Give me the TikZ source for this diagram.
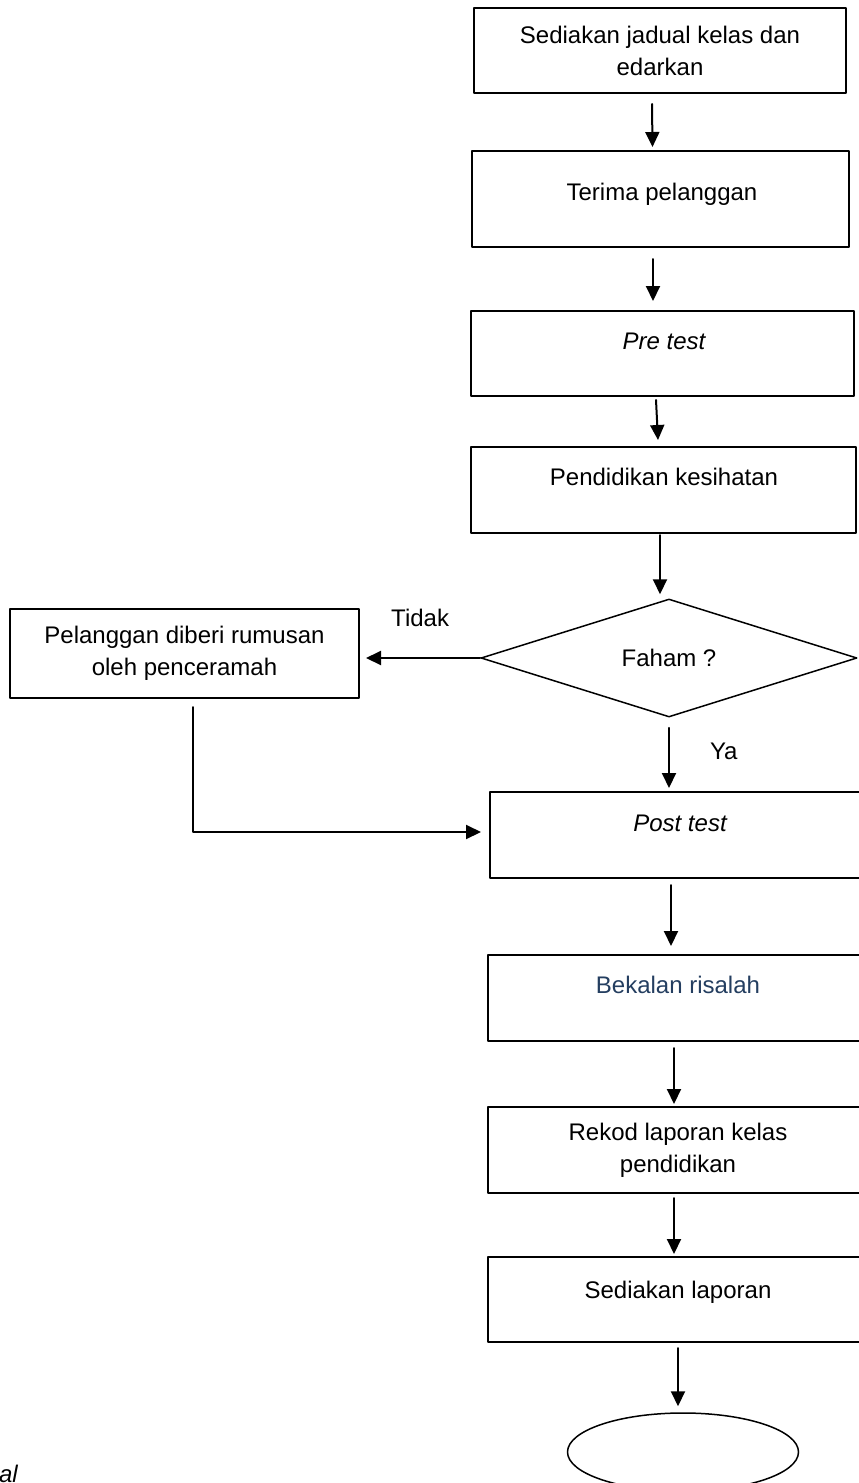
\documentclass[tikz,border=0pt]{standalone}
\usepackage{fontspec}
\setmainfont{Liberation Sans}
\usetikzlibrary{arrows.meta,shapes.geometric}
\definecolor{risalahblue}{RGB}{36,62,96}

\begin{document}
\begin{tikzpicture}[line cap=round,line join=round,>={Triangle[length=15pt,width=14pt]},x=1pt,y=-1pt,line width=2pt,
    every node/.style={font=\fontsize{24}{32}\selectfont},
    box/.style={draw,inner sep=0pt,align=center},
    lbl/.style={inner sep=0pt,align=center}]
    \useasboundingbox (0,0) rectangle (859,1483);
    \clip (0,0) rectangle (859,1483);
    % main column
    \node[box,minimum width=372pt,minimum height=85pt] (sediakan) at (660,50.5) {Sediakan jadual kelas dan\\edarkan};
    \node[box,minimum width=377pt,minimum height=96pt] (terima) at (660.5,199) {};
    \node[lbl,anchor=base] (terimatxt) at (662,200) {Terima pelanggan};
    \node[box,minimum width=383pt,minimum height=85pt] (pre) at (662.5,353.5) {};
    \node[lbl,anchor=base] (pretxt) at (664,349) {\itshape Pre test};
    \node[box,minimum width=385pt,minimum height=86pt] (pend) at (663.5,490) {};
    \node[lbl,anchor=base] (pendtxt) at (664,485) {Pendidikan kesihatan};
    \node[draw,diamond,line width=1.5pt,inner sep=0pt,minimum width=376pt,minimum height=118pt] (faham) at (669,658) {Faham ?};
    \node[box,minimum width=349pt,minimum height=89pt] (pel) at (184.5,653.5) {Pelanggan diberi rumusan\\oleh penceramah};
    \node[box,minimum width=380pt,minimum height=86pt] (post) at (680,835) {};
    \node[lbl,anchor=base] (posttxt) at (680,831) {\itshape Post test};
    \node[box,minimum width=380pt,minimum height=86pt] (bekalan) at (678,998) {};
    \node[lbl,anchor=base,text=risalahblue] (bekalantxt) at (678,993) {Bekalan risalah};
    \node[box,minimum width=380pt,minimum height=86pt] (rekod) at (678,1150) {Rekod laporan kelas\\pendidikan};
    \node[box,minimum width=380pt,minimum height=85pt] (laporan) at (678,1299.5) {};
    \node[lbl,anchor=base] (laporantxt) at (678,1298) {Sediakan laporan};
    \node[draw,ellipse,line width=1.5pt,inner sep=0pt,minimum width=231pt,minimum height=78pt] (tamat) at (683,1452) {};
    \node[lbl,anchor=base west] (nota) at (-2,1482) {\itshape al};
    % arrows
    \draw[->] ([xshift=-8pt,yshift=-10pt]sediakan.south) -- ([xshift=-8pt,yshift=3pt]terima.north);
    \draw[->] ([xshift=-7.5pt,yshift=-11pt]terima.south) -- ([xshift=-9.5pt,yshift=9pt]pre.north);
    \draw[->] ([xshift=-6.5pt,yshift=-3pt]pre.south) -- ([xshift=-5.5pt,yshift=6pt]pend.north);
    \draw[->] ([xshift=-3.5pt,yshift=-1pt]pend.south) -- ([xshift=-9pt,yshift=4pt]faham.north);
    \draw[->,shorten >=6pt] (faham.west) -- (faham.west -| pel.east) node[lbl,midway,above=30pt] (tidak) {Tidak};
    \draw[->] ([xshift=8.5pt,yshift=-8pt]pel.south) |- ([xshift=-8pt,yshift=3pt]post.west);
    \draw[->] ([yshift=-10pt]faham.south) -- ([xshift=-11pt,yshift=3pt]post.north) node[lbl,pos=0.4,right=40pt] (ya) {Ya};
    \draw[->] ([xshift=-9pt,yshift=-6pt]post.south) -- ([xshift=-7pt,yshift=8pt]bekalan.north);
    \draw[->] ([xshift=-4pt,yshift=-6pt]bekalan.south) -- ([xshift=-4pt,yshift=2pt]rekod.north);
    \draw[->] ([xshift=-4pt,yshift=-4pt]rekod.south) -- ([xshift=-4pt,yshift=2pt]laporan.north);
    \draw[->] ([yshift=-5pt]laporan.south) -- ([xshift=-5pt,yshift=6pt]tamat.north);
\end{tikzpicture}
\end{document}
